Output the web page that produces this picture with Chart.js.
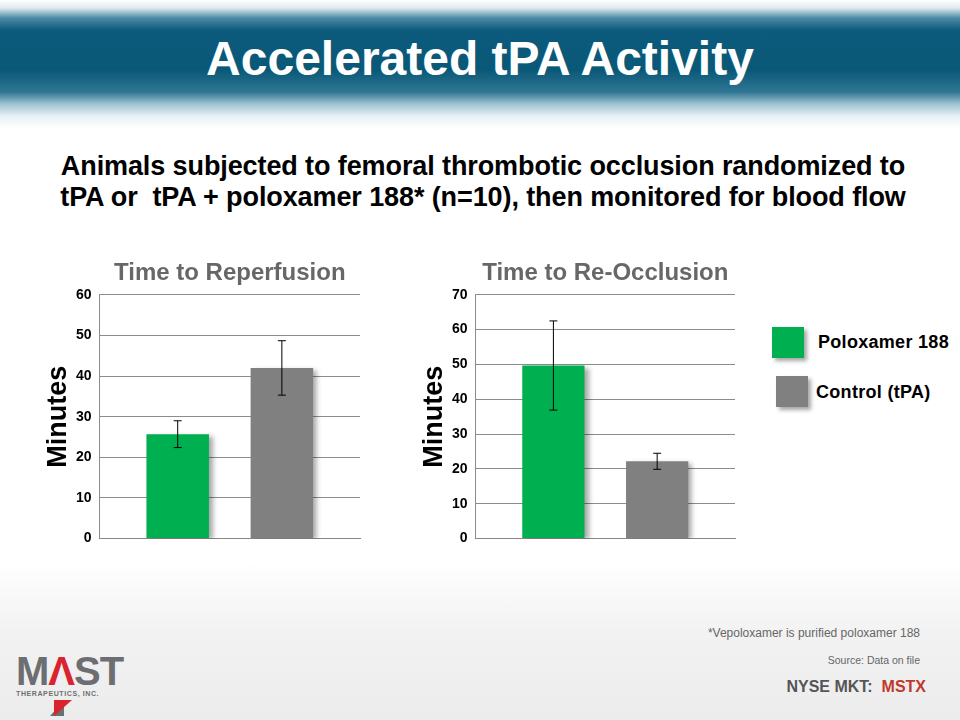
<!DOCTYPE html>
<html>
<head>
<meta charset="utf-8">
<script src="https://cdn.jsdelivr.net/npm/chart.js@4.4.1/dist/chart.umd.min.js"></script>
<style>
    html, body { margin: 0; padding: 0; }
    body {
        width: 960px; height: 720px; position: relative; overflow: hidden;
        font-family: "Liberation Sans", Arial, sans-serif;
        background: linear-gradient(to bottom, #ffffff 0%, #ffffff 78%, #f2f2f2 88%, #ececec 100%);
    }
    .header {
        position: absolute; left: 0; top: 0; width: 960px; height: 130px;
        background: linear-gradient(to bottom, #ffffff 0px, #dfe9ee 8px, #4c8aa6 18px, #0d5b7c 30px, #0a5878 70px, #2f7693 92px, #9fc3d2 104px, #e7f0f4 116px, #ffffff 128px);
    }
    .title {
        position: absolute; left: 0; top: 31px; width: 960px; text-align: center;
        color: #fff; font-weight: bold; font-size: 48px; line-height: 56px;
    }
    .subtitle {
        position: absolute; left: 0; top: 151px; width: 966px; text-align: center;
        color: #000; font-weight: bold; font-size: 27px; line-height: 31px; letter-spacing: -0.1px;
    }
    .chart-box { position: absolute; }
    .legend-sq { position: absolute; width: 32px; height: 31px; box-shadow: 3px 3px 4px rgba(0,0,0,0.35); }
    .legend-txt { position: absolute; font-weight: bold; font-size: 18px; color: #000; letter-spacing: 0.3px; }
    .foot { position: absolute; right: 40px; text-align: right; color: #666; }
    .logo { position: absolute; left: 16px; top: 652px; color: #6d6e71; }
</style>
</head>
<body>
<div class="header"></div>
<div class="title">Accelerated tPA Activity</div>
<div class="subtitle">Animals subjected to femoral thrombotic occlusion randomized to<br>tPA or&nbsp; tPA + poloxamer 188* (n=10), then monitored for blood flow</div>

<div class="chart-box" style="left:45px; top:255px; width:317px; height:300px;"><canvas id="chartReperfusion"></canvas></div>
<div class="chart-box" style="left:421px; top:255px; width:316px; height:300px;"><canvas id="chartReocclusion"></canvas></div>

<div class="legend-sq" style="left:772px; top:327px; background:#00b050;"></div>
<div class="legend-txt" style="left:818px; top:332px;">Poloxamer 188</div>
<div class="legend-sq" style="left:776px; top:376px; background:#808080;"></div>
<div class="legend-txt" style="left:816px; top:382px;">Control (tPA)</div>

<div class="foot" style="top:626px; font-size:12px;">*Vepoloxamer is purified poloxamer 188</div>
<div class="foot" style="top:654px; font-size:10.5px;">Source: Data on file</div>
<div class="foot" style="top:678px; font-size:16px; font-weight:bold; color:#555; right:34px;">NYSE MKT:&nbsp; <span style="color:#c0392b;">MSTX</span></div>

<div class="logo">
    <div style="font-size:40px; font-weight:bold; letter-spacing:-1px; line-height:38px;">M<span style="color:#d9232e;">&#923;</span>ST</div>
    <div style="font-size:7px; letter-spacing:0.6px; font-weight:bold;">THERAPEUTICS, INC.</div>
    <div style="position:absolute; left:24px; top:48px; width:0; height:0; border-left:10px solid transparent; border-right:14px solid #6d6e71; border-top:16px solid transparent;"></div>
    <div style="position:absolute; left:38px; top:48px; width:0; height:0; border-left:18px solid #d9232e; border-bottom:16px solid transparent;"></div>
</div>

<script>
// series shared by both panels
const categories = ['Poloxamer 188', 'Control (tPA)'];
const barColors = ['#00b050', '#808080'];

// Time to Reperfusion (minutes)
const reperfusionMeans = [25.7, 42.0];
const reperfusionErrors = [3.3, 6.7];
const reperfusionMax = 60;

// Time to Re-Occlusion (minutes)
const reocclusionMeans = [49.7, 22.2];
const reocclusionErrors = [12.8, 2.3];
const reocclusionMax = 70;

const FONT = '"Liberation Sans", Arial, sans-serif';

// bar shadow + error bars drawn from the y scale
const errorBars = {
    id: 'errorBars',
    beforeDatasetDraw(chart) {
        const ctx = chart.ctx;
        ctx.save();
        ctx.shadowColor = 'rgba(0,0,0,0.35)';
        ctx.shadowBlur = 5;
        ctx.shadowOffsetX = 4;
        ctx.shadowOffsetY = 2;
    },
    afterDatasetDraw(chart) {
        chart.ctx.restore();
    },
    afterDatasetsDraw(chart) {
        const ctx = chart.ctx;
        const yScale = chart.scales.y;
        chart.data.datasets.forEach((ds, i) => {
            const bar = chart.getDatasetMeta(i).data[0];
            const v = ds.data[0];
            const e = ds.errors[0];
            const top = yScale.getPixelForValue(v + e);
            const bot = yScale.getPixelForValue(v - e);
            ctx.save();
            ctx.strokeStyle = '#000';
            ctx.lineWidth = 1;
            ctx.beginPath();
            ctx.moveTo(bar.x, top); ctx.lineTo(bar.x, bot);
            ctx.moveTo(bar.x - 4, top); ctx.lineTo(bar.x + 4, top);
            ctx.moveTo(bar.x - 4, bot); ctx.lineTo(bar.x + 4, bot);
            ctx.stroke();
            ctx.restore();
        });
    }
};

function makeChart(id, title, means, errors, max) {
    const ctx = document.getElementById(id).getContext('2d');
    return new Chart(ctx, {
        type: 'bar',
        data: {
            labels: [''],
            datasets: categories.map((name, i) => ({
                label: name,
                data: [means[i]],
                errors: [errors[i]],
                backgroundColor: barColors[i],
                borderWidth: 0
            }))
        },
        options: {
            responsive: true,
            maintainAspectRatio: false,
            animation: false,
            categoryPercentage: 0.8,
            barPercentage: 0.6,
            layout: { padding: { left: 0, right: 2, top: 0, bottom: 0 } },
            plugins: {
                legend: { display: false },
                tooltip: { enabled: false },
                title: {
                    display: true,
                    fullSize: false,
                    text: title,
                    color: '#676767',
                    font: { family: FONT, size: 24, weight: 'bold' },
                    padding: { top: 4, bottom: 7 }
                }
            },
            scales: {
                x: {
                    grid: { display: false },
                    ticks: { display: false },
                    border: { display: true, color: '#888' }
                },
                y: {
                    min: 0,
                    max: max,
                    ticks: { stepSize: 10, color: '#000', padding: 8, font: { family: FONT, size: 14, weight: 'bold' } },
                    grid: { color: '#8c8c8c', drawTicks: false },
                    border: { display: true, color: '#8c8c8c' },
                    title: {
                        display: true,
                        text: 'Minutes',
                        color: '#000',
                        font: { family: FONT, size: 27, weight: 'bold', lineHeight: 1.0 },
                        padding: { top: 0, bottom: -4 }
                    }
                }
            }
        },
        plugins: [errorBars]
    });
}

makeChart('chartReperfusion', 'Time to Reperfusion', reperfusionMeans, reperfusionErrors, reperfusionMax);
makeChart('chartReocclusion', 'Time to Re-Occlusion', reocclusionMeans, reocclusionErrors, reocclusionMax);
</script>
</body>
</html>
